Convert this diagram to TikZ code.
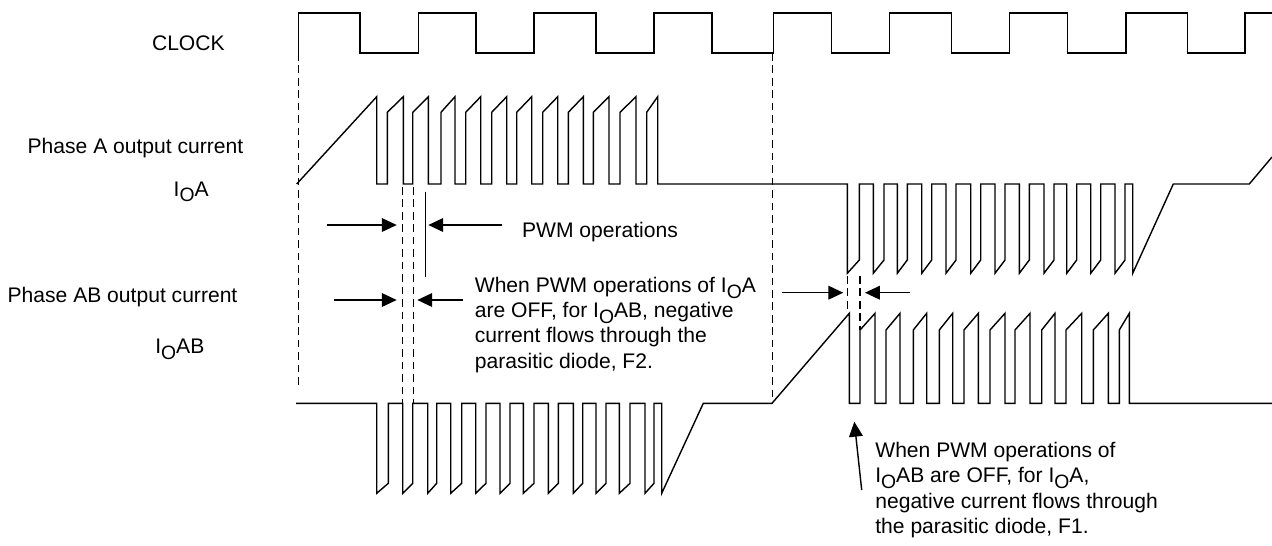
\documentclass[tikz,border=0pt]{standalone}
\usepackage{fontspec}
\setmainfont{Liberation Sans}
\usetikzlibrary{arrows.meta}
\newcommand{\IO}{I\raisebox{-0.28em}{\fontsize{11}{11}\selectfont O}}

\begin{document}
\begin{tikzpicture}[x=0.02cm,y=-0.02cm,
    wave/.style={line width=0.8pt,line join=miter},
    guide/.style={line width=0.8pt,dash pattern=on 4.3pt off 2.8pt},
    dim/.style={line width=0.8pt,-{Triangle[length=8.5pt,width=7.8pt]}},
    lbl/.style={inner sep=0pt,anchor=base west,font=\fontsize{12}{14.4}\selectfont},
    note/.style={inner sep=0pt,anchor=north west,align=left,font=\fontsize{12}{14.4}\selectfont}]
                \useasboundingbox (0,0) rectangle (1272,545);

                % labels on the left
                \node[lbl] (clk)  at (151.7,50)  {CLOCK};
                \node[lbl] (phA)  at (27.3,153.3) {Phase A output current};
                \node[lbl] (ioa)  at (173.3,196) {\IO A};
                \node[lbl] (phAB) at (7.3,302.3) {Phase AB output current};
                \node[lbl] (ioab) at (155,353.3) {\IO AB};

                % clock
                \draw[wave] (298.3,53)
                  \foreach \r/\f in {298.3/360, 418.3/476, 534/596, 654/712, 773.3/831.7, 889.3/951.7, 1009.3/1067.3, 1126/1187.3}
                  { -- (\r,53) -- (\r,13) -- (\f,13) -- (\f,53) }
                  -- (1245,53) -- (1245,13) -- (1272,13);

                % phase A
                \draw[wave] (296.7,184) -- (376.7,96.7) -- (376.7,184)
                  \foreach \r/\f in {387.3/403.3, 412.7/428.3, 441/455, 465.7/480.7, 491.7/506.7, 516.7/531.7, 542.7/557.7, 568.3/583.3, 593.3/609, 620/636, 646.7/657.7}
                  { -- (\r,184) -- (\r,112.3) -- (\f,96.7) -- (\f,184) }
                  -- (847.3,184) -- (847.3,273.3)
                  \foreach \r/\f in {859.3/873.3, 884/897.3, 907.3/921.7, 931.7/946, 956/970.7, 980.7/995, 1005/1019.3, 1029.3/1044, 1054/1066.7, 1076.7/1090.7, 1100.7/1115, 1125/1132.7}
                  { -- (\r,260) -- (\r,184) -- (\f,184) -- (\f,273.3) }
                  -- (1173.3,184) -- (1249.3,184) -- (1272,157);

                % phase AB
                \draw[wave] (296,403.3) -- (376.7,403.3) -- (376.7,493.3)
                  \foreach \r/\f in {388.3/402.7, 412.7/427.7, 436.7/450.7, 461.7/475.7, 486/500, 510/523.3, 534/548.3, 558.3/573.3, 582.7/596, 606/619.3, 630/645, 654/661.7}
                  { -- (\r,483.3) -- (\r,403.3) -- (\f,403.3) -- (\f,493.3) }
                  -- (703.3,403.3) -- (772,403.3) -- (849.3,313.3) -- (849.3,403.3)
                  \foreach \r/\f in {860/875, 886/900, 913.3/926.7, 939.3/952.7, 964/978.3, 990/1005, 1015/1030, 1041.7/1055, 1066/1081.7, 1093.3/1108.3, 1119.3/1129.3}
                  { -- (\r,403.3) -- (\r,330) -- (\f,313.3) -- (\f,403.3) }
                  -- (1272,403.3);

                % dashed guides
                \draw[guide] (298.3,53) -- (298.3,387);
                \draw[guide] (772.7,53) -- (772.7,401);
                \draw[guide] (402.7,187) -- (402.7,403.3);
                \draw[guide] (413.3,187) -- (413.3,403.3);
                \draw[guide] (847.3,276) -- (847.3,313);
                \draw[guide] (860,276) -- (860,330);
                \draw[wave] (425.7,191.7) -- (425.7,276.7);

                % end points of the arrows
                \coordinate (pA) at (326.7,225);  \coordinate (pAt) at (396.7,225);
                \coordinate (pB) at (501.7,225);  \coordinate (pBt) at (428.3,225);
                \coordinate (qA) at (334,300);    \coordinate (qAt) at (396.7,300);
                \coordinate (qB) at (463.3,300);  \coordinate (qBt) at (417.3,300);
                \coordinate (sA) at (781.7,292.7); \coordinate (sAt) at (843.3,292.7);
                \coordinate (sB) at (910,292.7);  \coordinate (sBt) at (865,292.7);
                \coordinate (uA) at (861.7,490);  \coordinate (uAt) at (854.3,421.7);

                \draw[dim] (pA) -- (pAt);
                \draw[dim] (pB) -- (pBt);
                \draw[dim] (qA) -- (qAt);
                \draw[dim] (qB) -- (qBt);
                \draw[dim] (sA) -- (sAt);
                \draw[dim] (sB) -- (sBt);
                \draw[dim] (uA) -- (uAt);

                % texts
                \node[lbl] (pwm) at (521.7,237.3) {PWM operations};
                \node[note] (noteF2) at (474.5,276.5) {When PWM operations of \IO A\\are OFF, for \IO AB, negative\\current flows through the\\parasitic diode, F2.};
                \node[note] (noteF1) at (875,442) {When PWM operations of\\\IO AB are OFF, for \IO A,\\negative current flows through\\the parasitic diode, F1.};
            \end{tikzpicture}
\end{document}
